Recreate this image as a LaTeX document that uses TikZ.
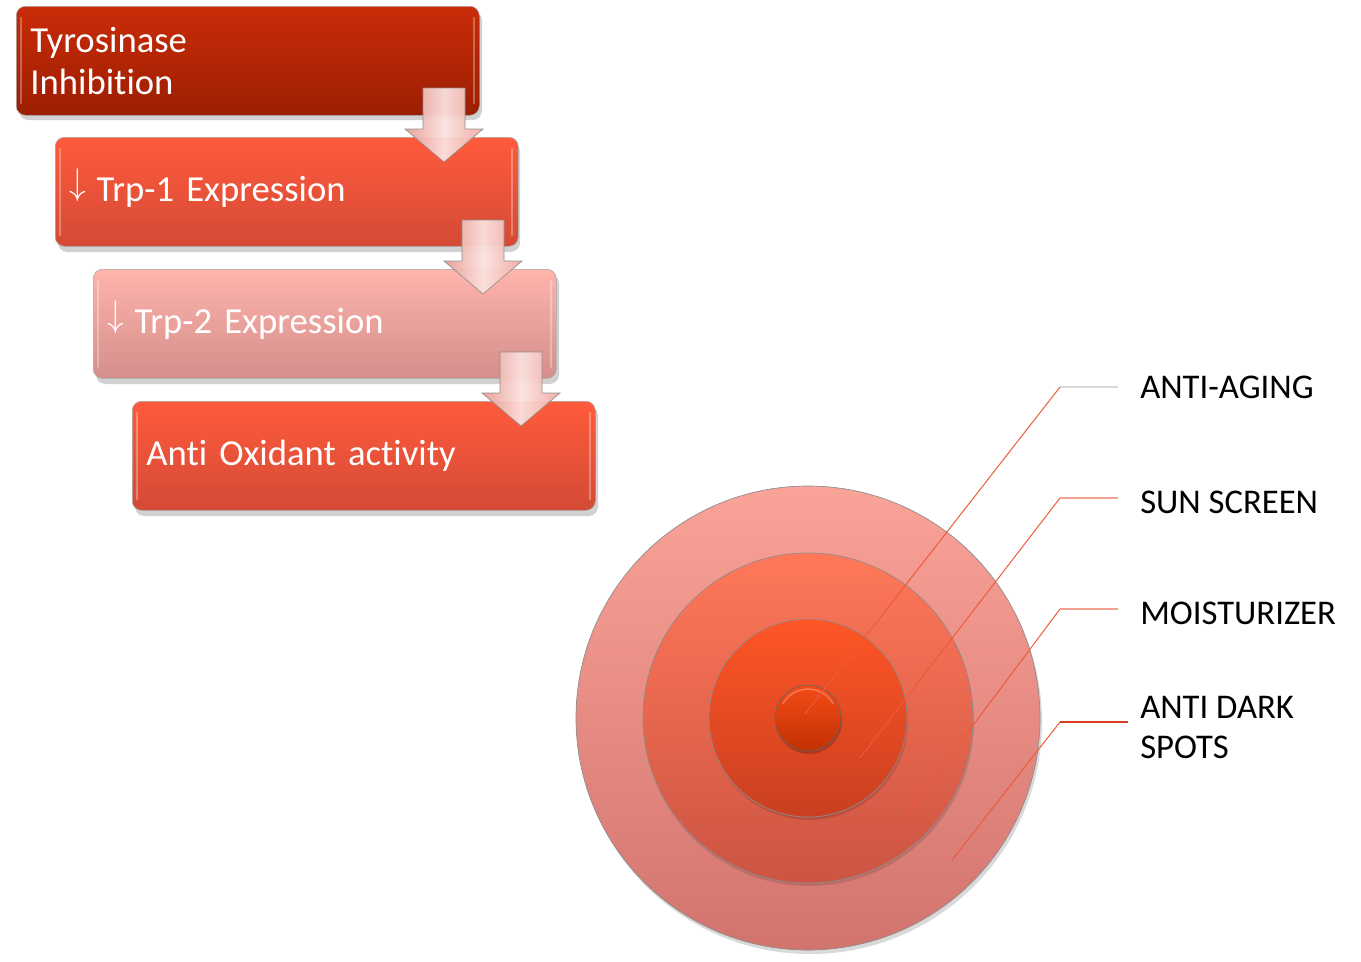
\documentclass[tikz,border=0pt]{standalone}
\usepackage{fontspec}
\setmainfont{Carlito}[Ligatures={NoCommon,NoContextual}]
\definecolor{bAt}{HTML}{C92C08}
\definecolor{bAb}{HTML}{9C1E02}
\definecolor{bBt}{HTML}{FF5B3B}
\definecolor{bBb}{HTML}{D44A36}
\definecolor{bCt}{HTML}{FFB4AC}
\definecolor{bCb}{HTML}{D48E8B}
\definecolor{cAt}{HTML}{FAA398}
\definecolor{cAb}{HTML}{D2746E}
\definecolor{cBt}{HTML}{FF7859}
\definecolor{cBb}{HTML}{CC5443}
\definecolor{cCt}{HTML}{FF5626}
\definecolor{cCb}{HTML}{C93F20}
\definecolor{cDt}{HTML}{F44C18}
\definecolor{cDb}{HTML}{C23102}
\definecolor{leadc}{HTML}{EE5A3A}
\definecolor{leadl}{HTML}{F4A08E}
\definecolor{leadd}{HTML}{D8401F}
\definecolor{arrL}{HTML}{E89C95}
\definecolor{arrM}{HTML}{FBE2DF}
\definecolor{arrR}{HTML}{F1AAA3}
\tikzset{
  stepbox/.style={rounded corners=7pt, minimum width=347.25pt, minimum height=81.75pt,
    text width=326pt, align=left, inner xsep=10.5pt, inner ysep=0pt, anchor=north west,
    text=white, font=\fontsize{27.5}{31.5}\selectfont, draw=black!35, line width=0.4pt},
  boxshadow/.style={fill=black, opacity=0.18, rounded corners=7pt},
  edgehl/.style={white, opacity=0.3, line width=2.2pt, line cap=round},
  ring/.style={circle, inner sep=0pt, draw=black!45, line width=0.5pt},
  lab/.style={anchor=west, inner xsep=16.5pt, inner ysep=0pt, align=left,
    font=\fontsize{26}{30}\selectfont, text=black},
  diag/.style={leadc, line width=0.75pt},
  bigarrow/.style={left color=arrL, right color=arrR, middle color=arrM, draw=black!45, line width=0.5pt, opacity=0.95}
}
\newcommand\downblock[2]{%
  \draw[bigarrow] ({#1-21},{#2}) -- ({#1+21},{#2}) -- ({#1+21},{#2+41}) -- ({#1+39},{#2+41})
    -- ({#1},{#2+74}) -- ({#1-39},{#2+41}) -- ({#1-21},{#2+41}) -- cycle;}
\newcommand\edges[4]{%
  \draw[edgehl] ({#1+5},{#2+12}) -- ({#1+5},{#4-12});
  \draw[edgehl] ({#3-5},{#2+12}) -- ({#3-5},{#4-12});}
\newcommand\dnarr{\smash{\raisebox{5.5pt}{\scalebox{1}[1.12]{$\downarrow$}}}\hspace{8pt}}
\begin{document}
\begin{tikzpicture}[x=0.75pt,y=-0.75pt]
\useasboundingbox (0,0) rectangle (1361,961);
% box shadows
\fill[boxshadow] (19,11) rectangle (482,120);
\fill[boxshadow] (58,142) rectangle (520,252);
\fill[boxshadow] (96,274) rectangle (559,384);
\fill[boxshadow] (135,406) rectangle (598,516);
% boxes
\node[stepbox, top color=bAt, bottom color=bAb] (b1) at (16,6) {Tyrosinase\\Inhibition};
\edges{16}{6}{479}{115}
\node[stepbox, top color=bBt, bottom color=bBb] (b2) at (55,137) {\dnarr Trp-1 Expression};
\edges{55}{137}{517}{247}
\node[stepbox, top color=bCt, bottom color=bCb] (b3) at (93,269) {\dnarr Trp-2 Expression};
\edges{93}{269}{556}{379}
\node[stepbox, top color=bBt, bottom color=bBb] (b4) at (132,401) {Anti Oxidant activity};
\edges{132}{401}{595}{511}
% arrows
\downblock{444}{88}
\downblock{483}{220}
\downblock{521}{352}
% circle shadows
\fill[black, opacity=0.15] (810,722) circle[radius=174pt];
% circles
\node[ring, minimum size=348pt, top color=cAt, bottom color=cAb] (c1) at (808,718) {};
\fill[black, opacity=0.12] (809,721) circle[radius=123.75pt];
\node[ring, minimum size=247.5pt, top color=cBt, bottom color=cBb] (c2) at (808,718) {};
\fill[black, opacity=0.12] (809,721) circle[radius=74.25pt];
\node[ring, minimum size=148.5pt, top color=cCt, bottom color=cCb] (c3) at (808,718) {};
\fill[black, opacity=0.2] (809,721) circle[radius=24.75pt];
\node[ring, minimum size=49.5pt, top color=cDt, bottom color=cDb, draw=black!60] (c4) at (808,718) {};
\draw[white, opacity=0.3, line width=1pt] (808,718) ++(210:29) arc[start angle=210, end angle=330, radius=29];
% leader points
\coordinate (s1) at (805,714);
\coordinate (s2) at (860,758);
\coordinate (s3) at (906,815);
\coordinate (s4) at (952,860);
\coordinate (e1) at (1060,387);
\coordinate (e2) at (1060,498);
\coordinate (e3) at (1060,609);
\coordinate (e4) at (1060,722);
% labels
\node[lab] (l1) at (1118,387) {ANTI-AGING};
\node[lab] (l2) at (1118,502) {SUN SCREEN};
\node[lab] (l3) at (1118,613) {MOISTURIZER};
\node[lab] (l4) at (1118,727) {ANTI DARK\\SPOTS};
% leaders
\draw[diag] (s1) -- (e1);
\draw[diag] (s2) -- (e2);
\draw[diag] (s3) -- (e3);
\draw[diag] (s4) -- (e4);
\draw[black!15, line width=2.2pt] (e1) -- (l1.west |- e1);
\draw[leadl, line width=1.1pt] (e2) -- (l2.west |- e2);
\draw[leadl, line width=1.1pt] (e3) -- (l3.west |- e3);
\draw[leadd, line width=2.2pt] (e4) -- ([xshift=7.5pt]l4.west |- e4);
\end{tikzpicture}
\end{document}
